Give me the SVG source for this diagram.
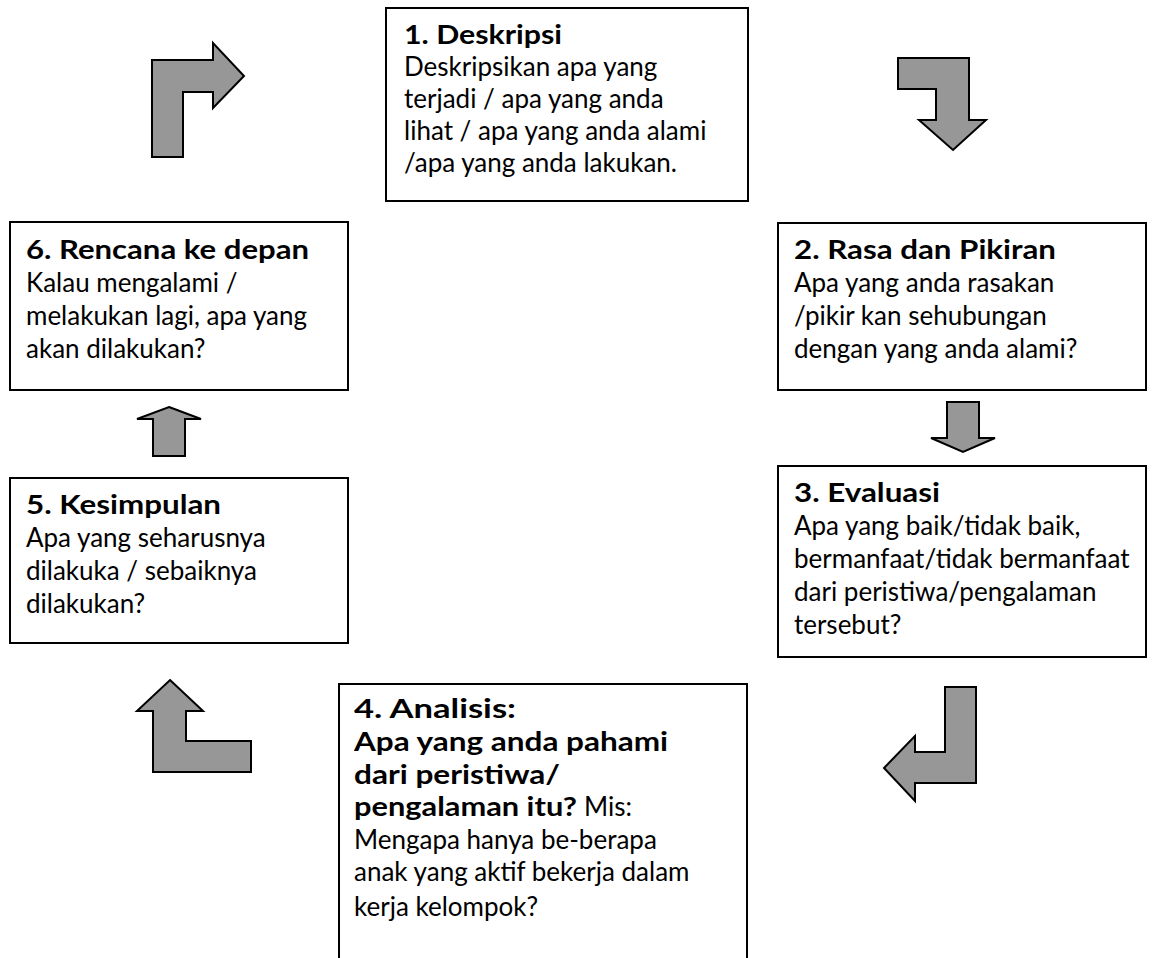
<svg xmlns="http://www.w3.org/2000/svg" width="1156" height="958" viewBox="0 0 1156 958">
<style>
.box{fill:#fff;stroke:#000;stroke-width:2}
.arr{fill:#979797;stroke:#000;stroke-width:2;stroke-linejoin:miter}
text{font-family:"Lato","Open Sans",sans-serif;font-size:26px;fill:#000}
.b{font-weight:bold}
</style>
<rect width="1156" height="958" fill="#fff"/>
<g id="connectors">
<polygon class="arr" points="152,157 152,60 213,60 213,43 244,76 213,108 213,92 183,92 183,157"/>
<polygon class="arr" points="898,58 969,58 969,120 986,120 953,150 919,120 936,120 936,89 898,89"/>
<polygon class="arr" points="947,402 979,402 979,438 995,438 963,452 931,438 947,438"/>
<polygon class="arr" points="945,687 976,687 976,783 915,783 915,801 884,768 915,736 915,752 945,752"/>
<polygon class="arr" points="170,680 203,711 186,711 186,741 251,741 251,772 153,772 153,711 137,711"/>
<polygon class="arr" points="169,407 201,419 185,419 185,456 153,456 153,419 137,419"/>
</g>
<g id="node1">
<rect class="box" x="386" y="8" width="362" height="193"/>
<text x="404" y="44" class="b" textLength="158" lengthAdjust="spacingAndGlyphs">1. Deskripsi</text>
<text x="404" y="76">Deskripsikan apa yang</text>
<text x="404" y="108">terjadi / apa yang anda</text>
<text x="404" y="140">lihat / apa yang anda alami</text>
<text x="404" y="172">/apa yang anda lakukan.</text>
</g>
<g id="node2">
<rect class="box" x="778" y="223" width="368" height="167"/>
<text x="794" y="259" class="b" textLength="262" lengthAdjust="spacingAndGlyphs">2. Rasa dan Pikiran</text>
<text x="794" y="292">Apa yang anda rasakan</text>
<text x="794" y="325">/pikir kan sehubungan</text>
<text x="794" y="358">dengan yang anda alami?</text>
</g>
<g id="node3">
<rect class="box" x="778" y="466" width="368" height="191"/>
<text x="794" y="502" class="b" textLength="146" lengthAdjust="spacingAndGlyphs">3. Evaluasi</text>
<text x="794" y="535">Apa yang baik/tidak baik,</text>
<text x="794" y="568">bermanfaat/tidak bermanfaat</text>
<text x="794" y="601">dari peristiwa/pengalaman</text>
<text x="794" y="634">tersebut?</text>
</g>
<g id="node4">
<rect class="box" x="339" y="684" width="408" height="290"/>
<text x="354" y="718" class="b" textLength="162" lengthAdjust="spacingAndGlyphs">4. Analisis:</text>
<text x="354" y="751" class="b" textLength="314" lengthAdjust="spacingAndGlyphs">Apa yang anda pahami</text>
<text x="354" y="784" class="b" textLength="206" lengthAdjust="spacingAndGlyphs">dari peristiwa/</text>
<text x="354" y="816" class="b" textLength="223" lengthAdjust="spacingAndGlyphs">pengalaman itu?</text>
<text x="584" y="816">Mis:</text>
<text x="354" y="849">Mengapa hanya be-berapa</text>
<text x="354" y="881">anak yang aktif bekerja dalam</text>
<text x="354" y="916">kerja kelompok?</text>
</g>
<g id="node5">
<rect class="box" x="10" y="478" width="338" height="165"/>
<text x="26" y="514" class="b" textLength="195" lengthAdjust="spacingAndGlyphs">5. Kesimpulan</text>
<text x="26" y="547">Apa yang seharusnya</text>
<text x="26" y="580">dilakuka / sebaiknya</text>
<text x="26" y="613">dilakukan?</text>
</g>
<g id="node6">
<rect class="box" x="10" y="222" width="338" height="168"/>
<text x="26" y="259" class="b" textLength="283" lengthAdjust="spacingAndGlyphs">6. Rencana ke depan</text>
<text x="26" y="292">Kalau mengalami /</text>
<text x="26" y="325">melakukan lagi, apa yang</text>
<text x="26" y="358">akan dilakukan?</text>
</g>
</svg>
